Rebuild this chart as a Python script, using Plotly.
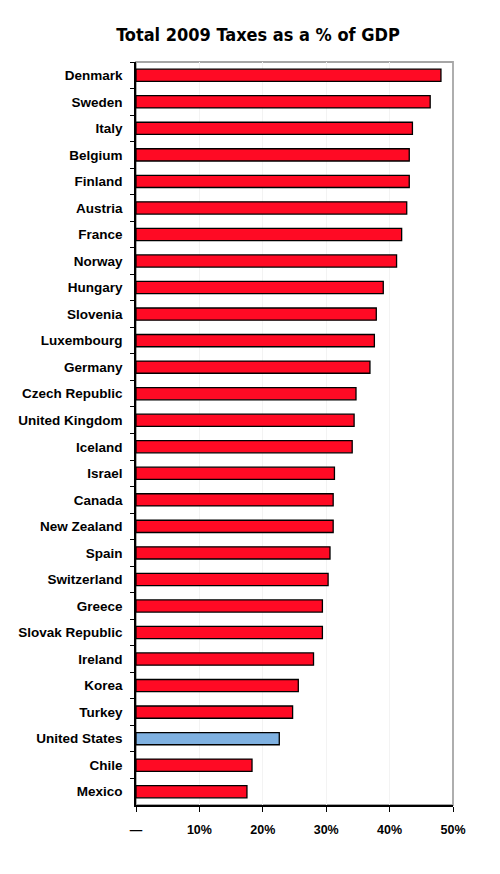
import plotly.graph_objects as go

countries = [
    'Denmark', 'Sweden', 'Italy', 'Belgium', 'Finland', 'Austria', 'France',
    'Norway', 'Hungary', 'Slovenia', 'Luxembourg', 'Germany', 'Czech Republic',
    'United Kingdom', 'Iceland', 'Israel', 'Canada', 'New Zealand', 'Spain',
    'Switzerland', 'Greece', 'Slovak Republic', 'Ireland', 'Korea', 'Turkey',
    'United States', 'Chile', 'Mexico'
]
tax_pct = [
    48.1, 46.4, 43.6, 43.1, 43.1, 42.7, 41.9,
    41.1, 39.0, 37.9, 37.6, 36.9, 34.7,
    34.4, 34.1, 31.3, 31.1, 31.1, 30.6,
    30.3, 29.4, 29.4, 28.0, 25.6, 24.7,
    22.6, 18.3, 17.5
]
tick_vals = [0, 10, 20, 30, 40, 50]
tick_text = ['\u2014', '10%', '20%', '30%', '40%', '50%']

highlight = 'United States'
colors = ['#7fb1e1' if c == highlight else '#ff0a24' for c in countries]

fig = go.Figure(go.Bar(
    x=tax_pct,
    y=countries,
    orientation='h',
    marker=dict(color=colors, line=dict(color='black', width=1.3)),
    hoverinfo='x+y',
))

# page body has an 8px margin, so margins are shifted to line up
fig.update_layout(
    width=500, height=874,
    paper_bgcolor='white', plot_bgcolor='white',
    margin=dict(l=128, r=55, t=54, b=77),
    title=dict(
        text='<b>Total 2009 Taxes as a % of GDP</b>',
        x=0.5, xanchor='center', y=0.969, yanchor='middle',
        font=dict(family='DejaVu Sans Condensed, Liberation Sans Narrow, Liberation Sans', size=18, color='black'),
    ),
    bargap=0.54,
    showlegend=False,
    shapes=[dict(type='rect', xref='paper', yref='paper', x0=0, x1=1, y0=0, y1=1,
                 line=dict(color='#a6a6a6', width=1.8), layer='below')],
)

fig.update_xaxes(
    range=[0, 50], tickvals=tick_vals, ticktext=tick_text,
    showgrid=True, gridcolor='#f3f3f3', gridwidth=1,
    showline=True, linecolor='black', linewidth=1.5,
    ticks='outside', ticklen=5, tickcolor='black', tickwidth=1,
    ticklabelstandoff=7, zeroline=False, automargin=False,
    tickfont=dict(family='Liberation Sans, Arial', size=12.5, color='black', weight='bold'),
)
fig.update_yaxes(
    autorange='reversed', showgrid=False,
    showline=True, linecolor='black', linewidth=1.5,
    ticks='outside', ticklen=4, tickcolor='black', tickson='boundaries',
    ticklabelstandoff=9, automargin=False,
    tickfont=dict(family='Liberation Sans, Arial', size=13.5, color='black', weight='bold'),
)

fig.write_html('out.html')
